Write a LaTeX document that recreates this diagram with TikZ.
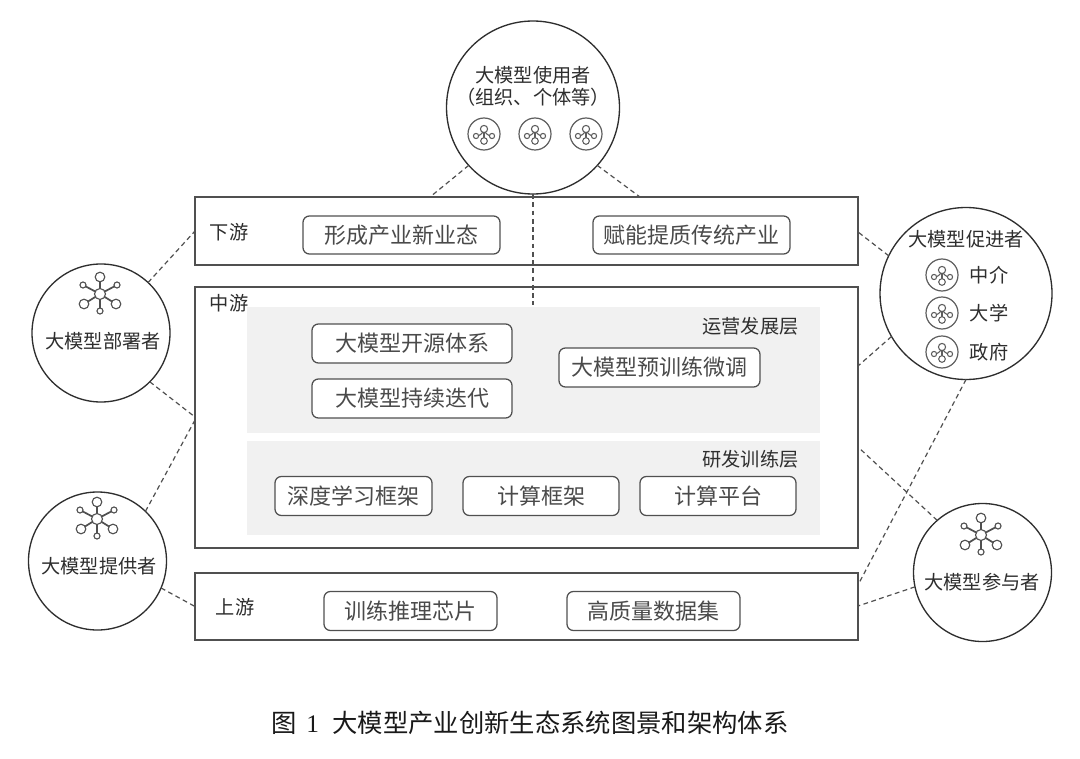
\documentclass[tikz,border=0pt]{standalone}
\usepackage{fontspec}
\newfontfamily\cjk{Noto Sans CJK SC}
\newfontfamily\numfont{Liberation Serif}
\definecolor{ink}{HTML}{2E2E2E}
\definecolor{softink}{HTML}{4A4A4A}
\definecolor{edge}{HTML}{505050}
\definecolor{panel}{HTML}{F1F1F1}
\definecolor{iconc}{HTML}{5E5E5E}
\tikzset{
  x=0.75pt,y=-0.75pt,
  layerbox/.style 2 args={draw=edge,line width=1.1pt,fill=white,inner sep=0pt,outer sep=0pt,minimum width=#1*0.75pt,minimum height=#2*0.75pt},
  panelbox/.style 2 args={fill=panel,draw=none,inner sep=0pt,outer sep=0pt,minimum width=#1*0.75pt,minimum height=#2*0.75pt},
  btn/.style 2 args={draw=edge,line width=0.95pt,fill=white,rounded corners=4.8pt,inner sep=0pt,outer sep=0pt,text=softink,font=\cjk\fontsize{16.5}{18}\selectfont,minimum width=#1*0.75pt,minimum height=#2*0.75pt},
  actor/.style={circle,draw=ink,line width=1pt,fill=white,inner sep=0pt,outer sep=0pt,minimum size=#1*1.5pt},
  lbl/.style={inner sep=0pt,text=ink,font=\cjk\fontsize{14.4}{16}\selectfont},
  captext/.style={inner sep=0pt,text=black!90,font=\cjk\fontsize{19}{21}\selectfont},
  link/.style={draw=edge,line width=0.9pt,dash pattern=on 3.6pt off 2.6pt},
  smallicon/.pic={
    \draw[iconc,line width=0.9pt] (0,0) circle[radius=16];
    \draw[iconc,line width=0.8pt] (-8,2) .. controls (-4,2) and (-3,0) .. (0,-3);
    \draw[iconc,line width=0.8pt] (8,2) .. controls (4,2) and (3,0) .. (0,-3);
    \draw[iconc,line width=0.8pt] (0,-3) -- (0,6);
    \draw[iconc,line width=0.8pt,fill=white] (0,-5) circle[radius=3.6] (-8,2) circle[radius=2.6] (8,2) circle[radius=2.6] (0,7) circle[radius=3.3];
  },
  bigicon/.pic={
    \foreach \a/\b/\r in {0/-17/4.8,17/-9/3,16/10/4.8,0/17/3,-16/10/4.8,-17/-9/3}{
      \draw[edge,line width=1.3pt] (0,0) -- (\a,\b);
      \draw[edge,line width=0.85pt,fill=white] (\a,\b) circle[radius=\r];
    }
    \draw[edge,line width=0.85pt,fill=white] (0,0) circle[radius=5.5];
  }
}
\begin{document}
\begin{tikzpicture}
\useasboundingbox (0,0) rectangle (1080,759);
% layer frames
\node[layerbox={663}{68}] (down) at (526.5,231) {};
\node[layerbox={663}{261}] (mid) at (526.5,417.5) {};
\node[layerbox={663}{67}] (up) at (526.5,606.5) {};
\node[panelbox={573}{126}] (ops) at (533.5,370) {};
\node[panelbox={573}{94}] (rnd) at (533.5,488) {};
% layer labels
\node[lbl] (downlbl) at (229,232) {下游};
\node[lbl] (midlbl) at (229,303) {中游};
\node[lbl] (uplbl) at (235,607) {上游};
\node[lbl] (opslbl) at (750.5,326) {运营发展层};
\node[lbl] (rndlbl) at (750.5,459) {研发训练层};
% buttons
\node[btn={197}{38}] (b1) at (401.5,235) {形成产业新业态};
\node[btn={197}{38}] (b2) at (691.5,235) {赋能提质传统产业};
\node[btn={200}{39}] (b3) at (412,343.5) {大模型开源体系};
\node[btn={200}{39}] (b4) at (412,398.5) {大模型持续迭代};
\node[btn={201}{39}] (b5) at (659.5,367.5) {大模型预训练微调};
\node[btn={157}{39}] (b6) at (353.5,496) {深度学习框架};
\node[btn={156}{39}] (b7) at (541,496) {计算框架};
\node[btn={156}{39}] (b8) at (718,496) {计算平台};
\node[btn={173}{39}] (b9) at (410.5,611) {训练推理芯片};
\node[btn={173}{39}] (b10) at (653.5,611) {高质量数据集};
% actors
\node[actor=86.5] (user) at (533,107.5) {};
\node[actor=69] (deploy) at (101,333) {};
\node[actor=69] (prov) at (97.5,561) {};
\node[actor=86] (prom) at (966,293.5) {};
\node[actor=69] (part) at (982.5,572.5) {};
% connector ends on frames
\coordinate (downTL) at (430,197);
\coordinate (downTR) at (640,197);
\coordinate (opsT) at (533,305);
\coordinate (midL) at (195,417);
\coordinate (midL2) at (195,420);
\coordinate (midR1) at (858,366);
\coordinate (midR2) at (858,447);
\coordinate (upR1) at (858,585);
\coordinate (upR2) at (858,606);
\coordinate (downR) at (858,232);
% connectors
\draw[link] (user.-138) -- (downTL);
\draw[link] (user.-42) -- (downTR);
\draw[link] (user.south) -- (opsT);
\draw[link] (deploy.47) -- (down.west);
\draw[link] (deploy.-45) -- (midL);
\draw[link] (prov.46) -- (midL2);
\draw[link] (prov.-23) -- (up.west);
\draw[link] (prom.154) -- (downR);
\draw[link] (prom.-150) -- (midR1);
\draw[link] (prom.south) -- (upR1);
\draw[link] (part.131) -- (midR2);
\draw[link] (part.-168) -- (upR2);
% actor contents
\node[lbl] (userA) at (533,75) {大模型使用者};
\node[lbl] (userB) at (533,97) {（组织、个体等）};
\pic at (484,134) {smallicon};
\pic at (535,134) {smallicon};
\pic at (586,134) {smallicon};
\pic at (100,294) {bigicon};
\node[lbl] (deployL) at (103,341) {大模型部署者};
\pic at (97,519) {bigicon};
\node[lbl] (provL) at (99,566) {大模型提供者};
\node[lbl] (promL) at (966,239) {大模型促进者};
\pic at (942,275) {smallicon};
\pic at (942,313) {smallicon};
\pic at (942,352) {smallicon};
\node[lbl] (promA) at (989,275) {中介};
\node[lbl] (promB) at (989,313) {大学};
\node[lbl] (promC) at (989,352) {政府};
\pic at (981,535) {bigicon};
\node[lbl] (partL) at (982,582) {大模型参与者};
% caption
\node[captext] (caption) at (530,723) {图\hspace{7pt}{\numfont 1}\hspace{10pt}大模型产业创新生态系统图景和架构体系};
\end{tikzpicture}
\end{document}
